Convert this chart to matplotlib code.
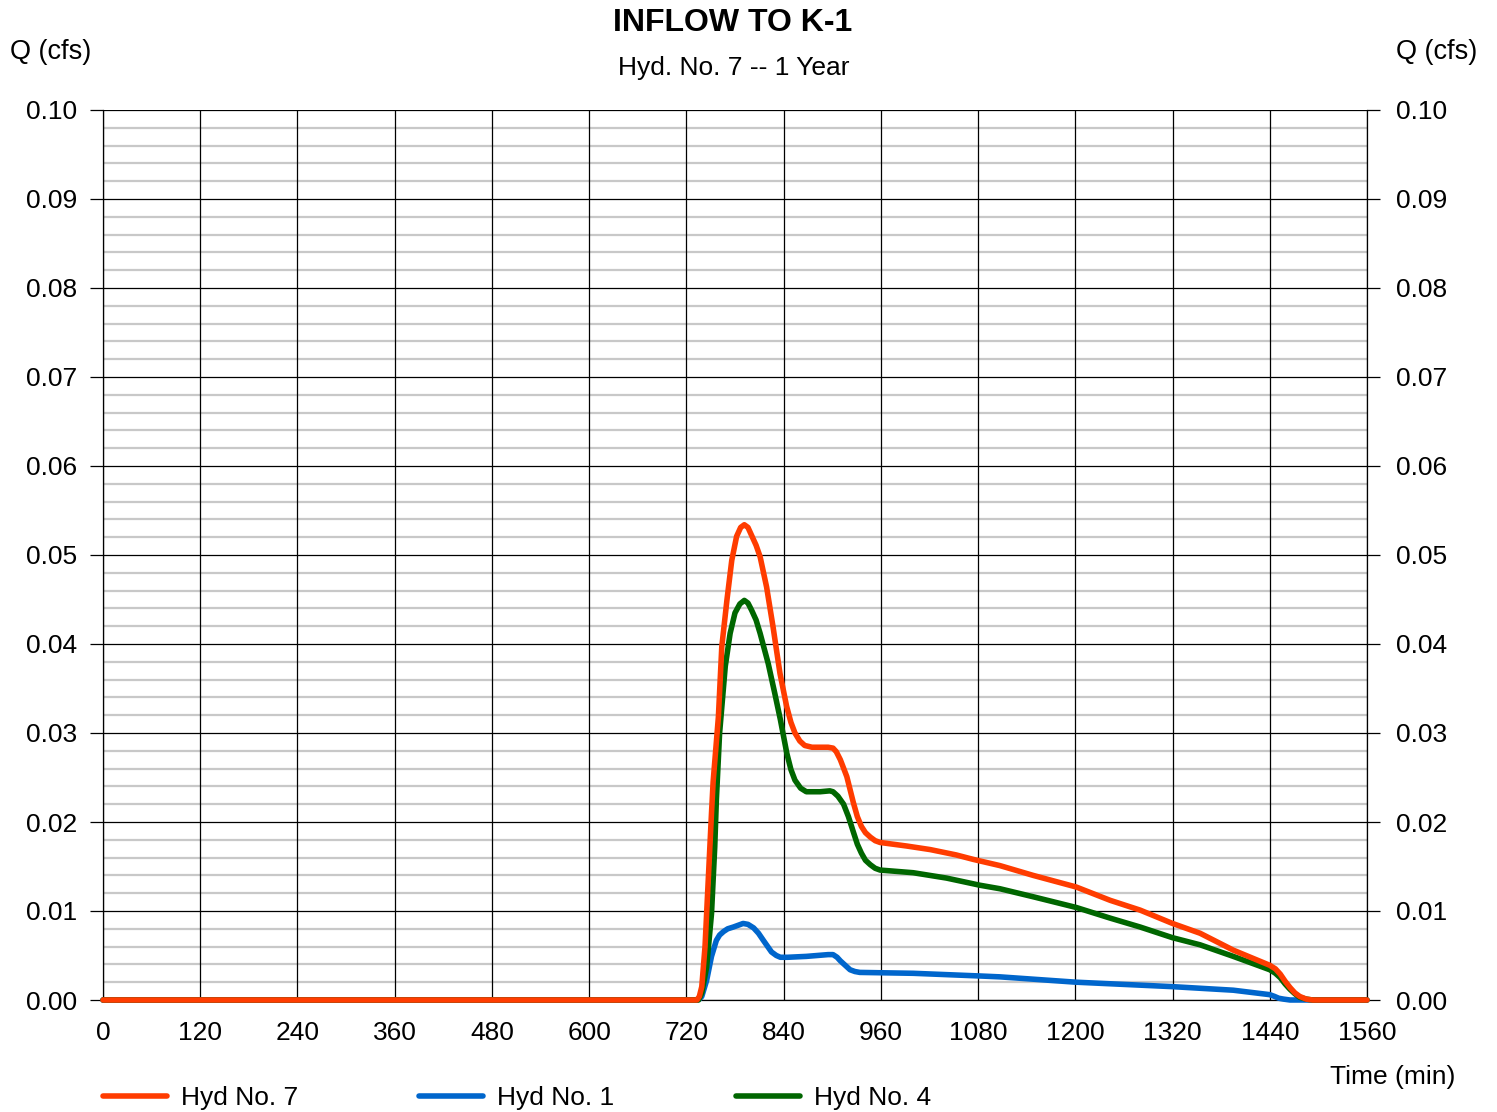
import numpy as np
import matplotlib.pyplot as plt
from matplotlib.lines import Line2D

plt.rcParams['font.family'] = ['Liberation Sans', 'DejaVu Sans']

# Hyd No. 7 (inflow to K-1)
t7 = [0, 733, 736, 739, 743, 747, 751, 753, 759.5, 763.7, 770, 776, 782, 787, 791.5, 796, 800.5,
      806, 811, 819, 827, 835.5, 843.7, 849, 854, 860, 866, 875, 885, 895, 901, 905, 910, 918,
      926, 931, 936, 941, 947, 953, 959, 992, 1021, 1053, 1074, 1107, 1148, 1201, 1243, 1280,
      1320, 1354, 1395, 1440, 1447, 1453, 1459, 1465, 1471, 1477, 1485, 1493, 1560]
q7 = [0, 0, 0.0004, 0.0015, 0.0060, 0.0135, 0.0210, 0.0245, 0.0318, 0.0397, 0.0449, 0.0494,
      0.0521, 0.0531, 0.0534, 0.0531, 0.0522, 0.0511, 0.0498, 0.0464, 0.0419, 0.0367, 0.0330,
      0.0312, 0.0300, 0.0291, 0.0286, 0.0284, 0.0284, 0.0284, 0.0283, 0.0279, 0.0270, 0.0251,
      0.0222, 0.0206, 0.0195, 0.0188, 0.0183, 0.0179, 0.0177, 0.0173, 0.0169, 0.0163, 0.0158,
      0.0151, 0.0140, 0.0127, 0.0112, 0.0101, 0.0086, 0.0075, 0.0056, 0.0039, 0.0035, 0.0029,
      0.0021, 0.0014, 0.0008, 0.0004, 0.0001, 0, 0]

# Hyd No. 1
t1 = [0, 733, 736, 739, 745, 751, 757, 761, 766, 771, 778, 784, 790, 796, 803, 809, 815, 825,
      831, 836, 845, 868, 895, 901, 906, 910, 916, 922, 928, 934, 1000, 1082, 1107, 1201, 1320,
      1395, 1440, 1446, 1451, 1457, 1465, 1560]
q1 = [0, 0, 0.0001, 0.0004, 0.0022, 0.0049, 0.0067, 0.0073, 0.0077, 0.0080, 0.0082, 0.0084,
      0.0086, 0.0085, 0.0081, 0.0075, 0.0067, 0.0054, 0.0050, 0.0048, 0.0048, 0.0049, 0.0051,
      0.0051, 0.0048, 0.0044, 0.0039, 0.0034, 0.0032, 0.0031, 0.0030, 0.0027, 0.0026, 0.0020,
      0.0015, 0.0011, 0.0006, 0.0004, 0.0002, 0.0001, 0, 0]

# Hyd No. 4
t4 = [0, 735, 739, 745, 751, 755, 757, 761, 768, 774, 780, 786, 791.5, 796, 800.5, 806, 811,
      821, 829, 836, 844, 849, 854, 861, 868, 885, 897, 901, 907, 914, 920, 926, 931, 936, 941,
      947, 953, 959, 1000, 1041, 1082, 1107, 1148, 1201, 1243, 1280, 1320, 1354, 1395, 1440,
      1447, 1453, 1459, 1465, 1471, 1477, 1485, 1493, 1560]
q4 = [0, 0, 0.0008, 0.0037, 0.0097, 0.0172, 0.0225, 0.0300, 0.0375, 0.0412, 0.0435, 0.0445,
      0.0449, 0.0446, 0.0438, 0.0427, 0.0412, 0.0378, 0.0345, 0.0315, 0.0277, 0.0259, 0.0247,
      0.0238, 0.0234, 0.0234, 0.0235, 0.0234, 0.0229, 0.0220, 0.0206, 0.0189, 0.0175, 0.0165,
      0.0157, 0.0152, 0.0148, 0.0146, 0.0143, 0.0137, 0.0129, 0.0125, 0.0116, 0.0104, 0.0092,
      0.0082, 0.0070, 0.0062, 0.0049, 0.0034, 0.0030, 0.0025, 0.0018, 0.0012, 0.0007, 0.0003,
      0.0001, 0, 0]

x_ticks = np.arange(0, 1561, 120)
y_ticks = np.arange(0, 0.1001, 0.01)
y_minor = np.arange(0, 0.1001, 0.002)

c7, c1, c4 = '#FF3C00', '#0066CC', '#006600'
lw = 4.0

fig = plt.figure(figsize=(14.97, 11.12), dpi=100)
ax = fig.add_axes([103/1497, 1 - 1000/1112, 1264/1497, 890/1112])

ax.set_xlim(0, 1560)
ax.set_ylim(0, 0.10)

# gray minor lines, black major grid
for v in y_minor:
    if round(v * 1000) % 10:
        ax.axhline(v, color='#C8C8C8', lw=1.6, zorder=1)
for v in y_ticks:
    ax.axhline(v, color='black', lw=0.9, zorder=2)
for v in x_ticks:
    ax.axvline(v, color='black', lw=0.9, zorder=2)

ax.plot(t1, q1, color=c1, lw=lw, zorder=3, clip_on=False, solid_capstyle='round',
        solid_joinstyle='round')
ax.plot(t4, q4, color=c4, lw=lw, zorder=4, clip_on=False, solid_capstyle='round',
        solid_joinstyle='round')
ax.plot(t7, q7, color=c7, lw=lw, zorder=5, clip_on=False, solid_capstyle='round',
        solid_joinstyle='round')

ax.set_xticks(x_ticks)
ax.set_xticklabels([str(v) for v in x_ticks])
ax.set_yticks(y_ticks)
ax.set_yticklabels(['%.2f' % v for v in y_ticks])
ax.tick_params(axis='x', length=0, pad=15, labelsize=19)
ax.tick_params(axis='y', length=9.5, width=0.9, pad=9, labelsize=19,
               left=True, right=True, labelleft=True, labelright=True)
# right-hand labels sit a little further out
for tick in ax.yaxis.get_major_ticks():
    tick.label2.set_x(1.0 + 3/1264)
for s in ax.spines.values():
    s.set_linewidth(0.9)
ax.spines['top'].set_visible(False)

fig.text(733/1497, 1 - 23/1112, 'INFLOW TO K-1', ha='center', va='center',
         fontsize=23, fontweight='bold')
fig.text(734/1497, 1 - 68/1112, 'Hyd. No. 7 -- 1 Year', ha='center', va='center', fontsize=19)
fig.text(10/1497, 1 - 52/1112, 'Q (cfs)', ha='left', va='center', fontsize=19.5)
fig.text(1477/1497, 1 - 52/1112, 'Q (cfs)', ha='right', va='center', fontsize=19.5)
fig.text(1455/1497, 1 - 1077/1112, 'Time (min)', ha='right', va='center', fontsize=19)

handles = [Line2D([], [], color=c, lw=lw, solid_capstyle='round') for c in (c7, c1, c4)]
fig.legend(handles, ['Hyd No. 7', 'Hyd No. 1', 'Hyd No. 4'], ncol=3, frameon=False,
           loc='center left', bbox_to_anchor=(103/1497, 1 - 1098/1112),
           borderaxespad=0, borderpad=0, fontsize=19, handlelength=2.42,
           handletextpad=0.53, columnspacing=4.6)

fig.savefig('out.png', dpi=100)
